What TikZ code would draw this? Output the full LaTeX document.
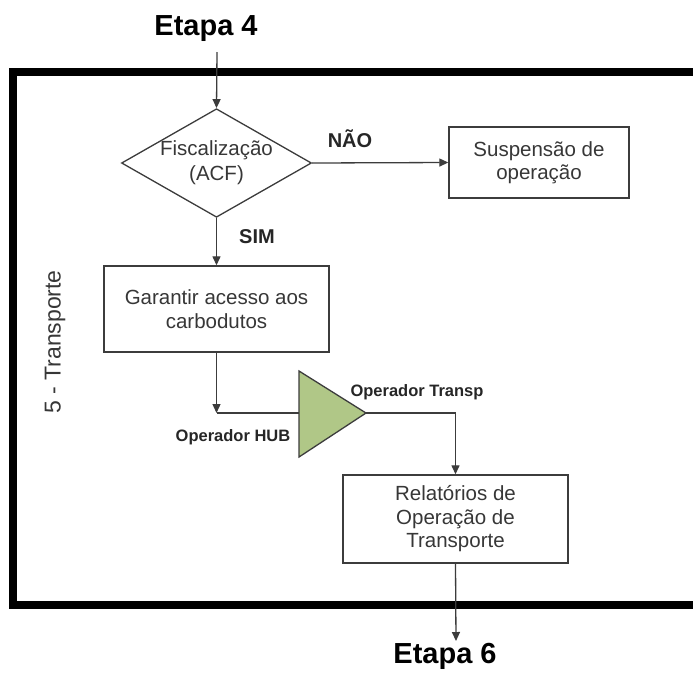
\documentclass[tikz,border=0pt]{standalone}
\usepackage{fontspec}
\setmainfont{Liberation Sans}
\usetikzlibrary{arrows.meta,shapes.geometric}
\definecolor{linec}{RGB}{60,60,60}
\definecolor{textc}{RGB}{55,55,55}
\definecolor{trigreen}{RGB}{176,199,135}
\begin{document}
\begin{tikzpicture}[x=1pt,y=-1pt,
  conn/.style={draw=linec, line width=1.3pt},
  arr/.style={conn, -{Triangle[length=9pt,width=8pt]}},
  procbox/.style={draw=linec, line width=1.4pt, fill=white, align=center, inner sep=0pt,
     text=textc, font=\fontsize{20.5}{23.5}\selectfont},
  decision/.style={diamond, aspect=1.75, draw=linec, line width=1.3pt, fill=white, align=center,
     inner sep=0pt, minimum width=189pt, minimum height=108pt, text=textc,
     font=\fontsize{20.5}{25}\selectfont},
  biglbl/.style={font=\bfseries\fontsize{29}{33}\selectfont, text=black},
  yesno/.style={font=\bfseries\fontsize{20}{24}\selectfont, text=black!85},
  oplbl/.style={font=\bfseries\fontsize{16.5}{20}\selectfont, text=black!85},
  framebox/.style={line width=8pt, draw=black, line join=miter}
]
\useasboundingbox (0,0) rectangle (693,673);
\fill[white] (0,0) rectangle (693,673);

% frame
\draw[framebox] (693,71.5) -- (12.5,71.5) -- (12.5,605) -- (693,605);
\node[rotate=90, font=\fontsize{23}{26}\selectfont, text=textc] (lane) at (55,342) {5 - Transporte};

% nodes
\node[biglbl] (e4) at (206,29) {Etapa 4};
\coordinate (e4s) at (217,52);
\node[decision] (fis) at (216.5,163) {Fiscalização\\(ACF)};
\node[procbox, minimum width=180pt, minimum height=71pt] (sus) at (539,162.5) {Suspensão de\\operação};
\node[procbox, minimum width=225pt, minimum height=86pt] (gar) at (216.5,309) {Garantir acesso aos\\carbodutos};
\node[procbox, minimum width=225pt, minimum height=88pt] (rel) at (455.5,519) {Relatórios de\\Operação de\\Transporte};
\node[biglbl] (e6) at (445,656) {Etapa 6};
\coordinate (e6n) at (456,641);

% triangle
\coordinate (triTop) at (299,371);
\coordinate (triBot) at (299,457);
\coordinate (triTip) at (366,413);
\coordinate (triW) at (299,413);
\coordinate (hubc) at (216.5,413);
\filldraw[fill=trigreen, draw=linec, line width=1.3pt, line join=miter] (triTop) -- (triTip) -- (triBot) -- cycle;

% connectors
\draw[arr] (e4s) -- (fis.north);
\draw[arr] (fis.east) -- (sus.west);
\node[yesno] (nao) at (350,139) {NÃO};
\draw[arr] (fis.south) -- (gar.north);
\node[yesno] (sim) at (257,237) {SIM};
\draw[arr] (gar.south) -- (hubc);
\draw[conn] (hubc) -- (triW);
\node[oplbl] (hub) at (233,437) {Operador HUB};
\draw[arr] (triTip) -| (rel.north);
\node[oplbl] (transp) at (417,392) {Operador Transp};
\draw[arr] (rel.south) -- (e6n);
\end{tikzpicture}
\end{document}
